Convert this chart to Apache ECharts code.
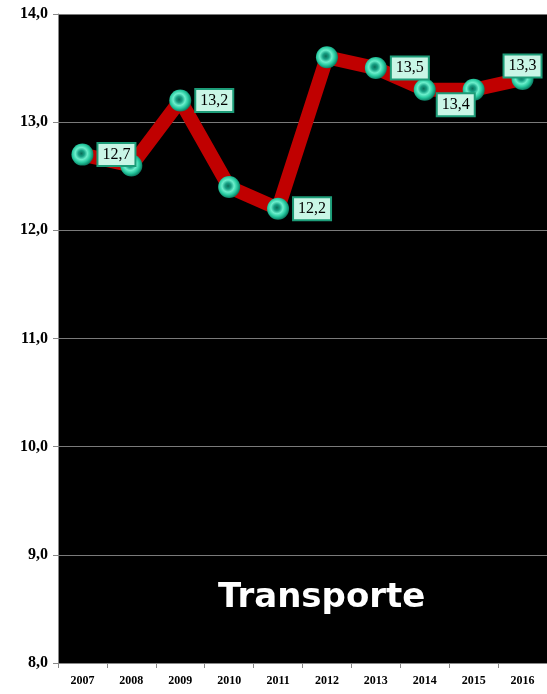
<!DOCTYPE html>
<html><head><meta charset="utf-8">
<script src="https://cdn.jsdelivr.net/npm/echarts@6/dist/echarts.min.js"></script>
<style>html,body{margin:0;padding:0;background:#fff;}#c{width:547px;height:694px;}</style>
</head><body><div id="c"></div>
<script>
var categories = ['2007','2008','2009','2010','2011','2012','2013','2014','2015','2016'];
var values = [12.7, 12.6, 13.2, 12.4, 12.2, 13.6, 13.5, 13.3, 13.3, 13.4];
// data labels as they appear in the picture (index -> text)
var labelIndex = [0, 2, 4, 6, 7, 9];
var labelText = ['12,7', '13,2', '12,2', '13,5', '13,4', '13,3'];
var yTicks = [8, 9, 10, 11, 12, 13, 14];
var chartTitle = 'Transporte';

var labelBase = {
  show: true, position: 'right', distance: 5,
  fontFamily: 'Liberation Serif', fontSize: 16, color: '#000',
  backgroundColor: '#c9f6e6', borderColor: '#1d9c78', borderWidth: 2,
  padding: [3, 4, 2, 4]
};
var special = {7: {position: 'right', offset: [-3, 15]}, 9: {position: 'inside', offset: [0, -13]}};
var data = values.map(function (v, i) {
  var k = labelIndex.indexOf(i);
  if (k < 0) return {value: v};
  var lab = Object.assign({}, labelBase, special[i] || {}, {formatter: labelText[k]});
  return {value: v, label: lab};
});

var chart = echarts.init(document.getElementById('c'), null, {renderer: 'canvas'});
chart.setOption({
  animation: false,
  backgroundColor: '#fff',
  grid: {left: 58, top: 14, right: -1, bottom: 31, show: true, backgroundColor: '#000', borderWidth: 0},
  xAxis: {
    type: 'category', data: categories, boundaryGap: true,
    axisLine: {lineStyle: {color: '#888', width: 1}},
    axisTick: {show: true, length: 5, lineStyle: {color: '#888'}},
    axisLabel: {fontFamily: 'Liberation Serif', fontWeight: 'bold', fontSize: 12, color: '#000', margin: 12}
  },
  yAxis: {
    type: 'value', min: yTicks[0], max: yTicks[yTicks.length - 1], interval: 1,
    axisLine: {show: true, lineStyle: {color: '#888', width: 1}},
    axisTick: {show: true, length: 5, lineStyle: {color: '#888'}},
    splitLine: {lineStyle: {color: '#7a7a7a', width: 1}},
    axisLabel: {
      fontFamily: 'Liberation Serif', fontWeight: 'bold', fontSize: 16, color: '#000', margin: 10,
      formatter: function (v) { return v.toFixed(1).replace('.', ','); }
    }
  },
  series: [{
    type: 'line', data: data,
    lineStyle: {color: '#c00000', width: 14},
    symbol: 'circle', symbolSize: 22,
    itemStyle: {
      color: {type: 'radial', x: 0.45, y: 0.45, r: 0.55, colorStops: [
        {offset: 0, color: '#0a6d58'},
        {offset: 0.25, color: '#17a084'},
        {offset: 0.5, color: '#6cefcc'},
        {offset: 0.75, color: '#27c99f'},
        {offset: 1, color: '#0b7f64'}
      ]},
      borderWidth: 0
    },
    z: 3
  }],
  graphic: [{
    type: 'text', left: 218, top: 581, z: 10,
    style: {text: chartTitle, fill: '#fff', fontFamily: 'DejaVu Sans', fontWeight: 'bold', fontSize: 34}
  }]
});
</script></body></html>
